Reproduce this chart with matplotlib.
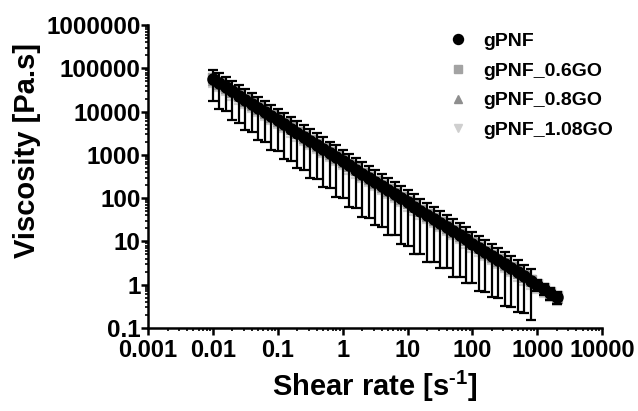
import numpy as np
import matplotlib
matplotlib.use("Agg")
import matplotlib.pyplot as plt
from matplotlib.lines import Line2D
from matplotlib.ticker import LogLocator, FuncFormatter, NullFormatter

plt.rcParams['font.family'] = ['Liberation Sans', 'DejaVu Sans']
plt.rcParams['font.weight'] = 'bold'
plt.rcParams['mathtext.fontset'] = 'custom'
plt.rcParams['mathtext.bf'] = 'Liberation Sans:bold'
plt.rcParams['mathtext.rm'] = 'Liberation Sans:bold'
plt.rcParams['mathtext.default'] = 'bf'

# shear rate [1/s], 10 points per decade
shear_rate = [0.01, 0.0126, 0.0158, 0.02, 0.0251, 0.0316, 0.0398, 0.0501, 0.0631, 0.0794,
              0.1, 0.126, 0.158, 0.2, 0.251, 0.316, 0.398, 0.501, 0.631, 0.794,
              1, 1.26, 1.58, 2, 2.51, 3.16, 3.98, 5.01, 6.31, 7.94,
              10, 12.6, 15.8, 20, 25.1, 31.6, 39.8, 50.1, 63.1, 79.4,
              100, 126, 158, 200, 251, 316, 398, 501, 631, 794,
              1000, 1260, 1580, 1995]

# viscosity [Pa.s] and SD
gpnf = [56000, 45200, 36300, 29200, 23400, 18800, 15100, 12200, 9770, 7850,
        6310, 5070, 4070, 3270, 2630, 2110, 1700, 1370, 1100, 881,
        708, 569, 457, 367, 295, 237, 191, 153, 123, 98.9,
        79.4, 63.8, 51.3, 41.2, 33.1, 26.6, 21.4, 17.2, 13.8, 11.1,
        8.91, 7.16, 5.75, 4.62, 3.72, 2.99, 2.40, 1.93, 1.55, 1.24,
        1.00, 0.80, 0.65, 0.52]
gpnf_sd = [38000, 33900, 26100, 22800, 17800, 15000, 11800, 10000, 7800, 6520,
           5110, 4260, 3340, 2780, 2180, 1820, 1430, 1190, 932, 775,
           609, 506, 398, 330, 260, 213, 170, 139, 109, 90,
           71.5, 58.7, 46.2, 37.9, 29.8, 24.2, 19.0, 15.7, 12.3, 10.0,
           7.84, 6.44, 5.06, 4.11, 3.24, 2.66, 2.09, 1.70, 1.33, 1.09,
           0.30, 0.22, 0.20, 0.16]

gpnf_06go = [59000, 47500, 38000, 30600, 24600, 19700, 15900, 12800, 10300, 8240,
             6630, 5320, 4270, 3430, 2760, 2220, 1780, 1430, 1150, 925,
             743, 597, 480, 385, 310, 249, 200, 161, 129, 104,
             83.4, 67.0, 53.9, 43.3, 34.8, 27.9, 22.5, 18.1, 14.5, 11.7,
             9.36, 7.52, 6.04, 4.85, 3.91, 3.14, 2.52, 2.03, 1.63, 1.30,
             1.05, 0.84, 0.68, 0.55]
gpnf_06go_sd = [14800, 11900, 9500, 7650, 6150, 4930, 3980, 3200, 2580, 2060,
                1660, 1330, 1070, 858, 690, 555, 445, 358, 288, 231,
                186, 149, 120, 96, 78, 62, 50, 40, 32, 26,
                20.9, 16.8, 13.5, 10.8, 8.7, 7.0, 5.6, 4.5, 3.6, 2.9,
                2.34, 1.88, 1.51, 1.21, 0.98, 0.79, 0.63, 0.51, 0.41, 0.33,
                0.26, 0.21, 0.17, 0.14]

gpnf_08go = [53800, 43400, 34800, 28000, 22500, 18000, 14500, 11700, 9380, 7540,
             6060, 4870, 3910, 3140, 2520, 2030, 1630, 1310, 1060, 846,
             680, 546, 439, 352, 283, 228, 183, 147, 118, 94.9,
             76.2, 61.2, 49.2, 39.6, 31.8, 25.5, 20.5, 16.5, 13.2, 10.7,
             8.55, 6.87, 5.52, 4.44, 3.57, 2.87, 2.30, 1.85, 1.49, 1.19,
             0.96, 0.77, 0.62, 0.50]
gpnf_08go_sd = [10800, 8700, 7000, 5600, 4500, 3600, 2900, 2340, 1880, 1510,
                1210, 974, 782, 628, 504, 406, 326, 262, 212, 169,
                136, 109, 88, 70, 57, 46, 37, 29, 24, 19,
                15.2, 12.2, 9.8, 7.9, 6.4, 5.1, 4.1, 3.3, 2.6, 2.1,
                1.71, 1.37, 1.10, 0.89, 0.71, 0.57, 0.46, 0.37, 0.30, 0.24,
                0.19, 0.15, 0.12, 0.10]

gpnf_108go = [52100, 42000, 33800, 27200, 21800, 17500, 14000, 11300, 9090, 7300,
              5870, 4720, 3790, 3040, 2450, 1960, 1580, 1270, 1020, 819,
              658, 529, 425, 341, 274, 220, 178, 142, 114, 92.0,
              73.8, 59.3, 47.7, 38.3, 30.8, 24.7, 19.9, 16.0, 12.8, 10.3,
              8.29, 6.66, 5.35, 4.30, 3.46, 2.78, 2.23, 1.79, 1.44, 1.15,
              0.93, 0.74, 0.60, 0.48]
gpnf_108go_sd = [15600, 12600, 10100, 8160, 6540, 5250, 4200, 3390, 2730, 2190,
                 1760, 1420, 1140, 912, 735, 588, 474, 381, 306, 246,
                 197, 159, 128, 102, 82, 66, 53, 43, 34, 27.6,
                 22.1, 17.8, 14.3, 11.5, 9.2, 7.4, 6.0, 4.8, 3.8, 3.1,
                 2.49, 2.00, 1.61, 1.29, 1.04, 0.83, 0.67, 0.54, 0.43, 0.35,
                 0.28, 0.22, 0.18, 0.14]

series = [
    ("gPNF", gpnf, gpnf_sd, "o", "black", 8, 10),
    ("gPNF_0.6GO", gpnf_06go, gpnf_06go_sd, "s", "#a3a3a3", 6.5, 4),
    ("gPNF_0.8GO", gpnf_08go, gpnf_08go_sd, "^", "#8e8e8e", 7, 3),
    ("gPNF_1.08GO", gpnf_108go, gpnf_108go_sd, "v", "#cfcfcf", 7, 2),
]

fig = plt.figure(figsize=(6.38, 4.11), dpi=100)
ax = fig.add_axes([0.232, 0.202, 0.712, 0.737])

x = np.array(shear_rate)
handles = []
for name, y, sd, mk, col, ms, z in series:
    ax.errorbar(x, y, yerr=sd, fmt=mk, color=col, ms=ms, mec=col, mfc=col,
                elinewidth=1.6, capsize=3.3, capthick=1.6, zorder=z)
    handles.append(Line2D([], [], ls="none", marker=mk, color=col, ms=ms * 0.9, label=name))

ax.set_xscale("log")
ax.set_yscale("log")
ax.set_xlim(0.001, 10000)
ax.set_ylim(0.1, 1000000)

def plain(v, pos):
    if v >= 1:
        return "%d" % round(v)
    return ("%f" % v).rstrip("0")

for a in (ax.xaxis, ax.yaxis):
    a.set_major_locator(LogLocator(base=10, numticks=20))
    a.set_minor_locator(LogLocator(base=10, subs=np.arange(2, 10), numticks=20))
    a.set_major_formatter(FuncFormatter(plain))
    a.set_minor_formatter(NullFormatter())

ax.spines["top"].set_visible(False)
ax.spines["right"].set_visible(False)
ax.spines["left"].set_linewidth(1.8)
ax.spines["bottom"].set_linewidth(1.8)
ax.tick_params(which="major", length=5, width=1.8, direction="out")
ax.tick_params(which="minor", length=2.5, width=1.2, direction="out")
ax.tick_params(axis="x", labelsize=17, pad=3)
ax.tick_params(axis="y", labelsize=17.5, pad=0.5)

ax.set_xlabel(r"Shear rate [s$^{\text{-}1}$]", fontsize=21, fontweight="bold", labelpad=5)
ax.set_ylabel("Viscosity [Pa.s]", fontsize=21, fontweight="bold")
ax.yaxis.set_label_coords(-0.236, 0.587)

ax.legend(handles=handles, loc="upper left", bbox_to_anchor=(0.69, 0.94),
          bbox_transform=fig.transFigure, frameon=False, fontsize=14,
          handlelength=1.0, handletextpad=0.8, labelspacing=0.62, borderaxespad=0)

fig.savefig("out.png", dpi=100)
